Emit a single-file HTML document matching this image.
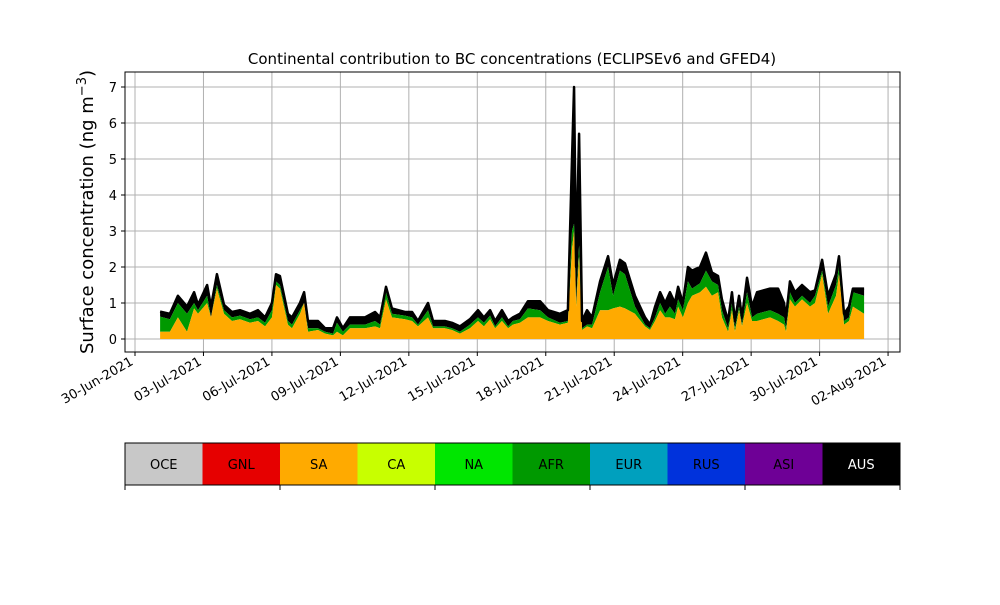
<!DOCTYPE html>
<html><head><meta charset="utf-8"><style>
body{margin:0;background:#fff;font-family:"Liberation Sans","DejaVu Sans",sans-serif}
svg text{font-family:"DejaVu Sans","Liberation Sans",sans-serif}
</style></head><body>
<svg id="c" width="1000" height="600" xmlns="http://www.w3.org/2000/svg"></svg>
<script>
const days=[1.10,1.53,1.88,2.28,2.59,2.76,3.16,3.33,3.59,3.90,4.25,4.60,5.04,5.39,5.70,6.00,6.18,6.35,6.70,6.88,7.23,7.41,7.58,8.02,8.33,8.68,8.85,9.11,9.42,10.08,10.52,10.74,11.00,11.26,11.83,12.14,12.40,12.84,13.06,13.58,13.89,14.24,14.68,15.03,15.29,15.56,15.78,16.08,16.35,16.56,16.87,17.22,17.75,18.10,18.62,18.97,19.15,19.24,19.33,19.46,19.59,19.81,20.03,20.38,20.73,20.95,21.25,21.47,21.91,22.35,22.57,22.79,23.01,23.23,23.44,23.66,23.80,24.01,24.23,24.41,24.76,25.02,25.28,25.55,25.72,25.99,26.16,26.29,26.47,26.60,26.82,27.04,27.26,27.83,28.18,28.44,28.53,28.70,28.92,29.23,29.58,29.80,30.11,30.37,30.72,30.85,31.07,31.29,31.46,31.95];
const sa=[.2,.2,.6,.2,.85,.7,1.0,.6,1.4,.7,.5,.55,.45,.5,.35,.6,1.5,1.4,.4,.3,.7,1.0,.2,.25,.15,.1,.2,.1,.3,.3,.35,.3,1.1,.6,.55,.5,.35,.6,.3,.3,.25,.15,.3,.5,.35,.55,.3,.5,.3,.4,.45,.6,.6,.5,.4,.45,2.5,3.0,.9,2.3,.25,.35,.3,.8,.8,.85,.9,.85,.7,.35,.25,.5,.8,.6,.6,.55,.9,.6,1.0,1.2,1.3,1.45,1.2,1.3,.6,.2,.8,.2,.8,.35,1.0,.5,.5,.6,.5,.4,.2,1.1,.9,1.1,.9,1.0,1.8,.7,1.2,1.8,.4,.5,.9,.7];
const afr=[.42,.35,.4,.5,.15,.1,.2,0,.1,.1,.1,.1,.1,.1,.1,.2,.1,.1,.1,.1,.1,0,.1,.05,.05,.05,.25,.1,.1,.1,.15,.1,.2,.1,.1,.1,.05,.2,.05,.05,.05,.05,.1,.1,.1,.1,.05,.1,.05,.1,.1,.25,.2,.1,.05,.05,.5,.2,.1,.3,.05,.05,.1,.5,1.2,.35,1.0,.95,.2,.05,.05,.1,.2,.1,.3,.15,.2,.2,.6,.2,.25,.45,.4,.2,.2,.1,.2,.1,.1,.05,.3,.1,.2,.2,.2,.2,.1,.2,.1,.1,.1,.2,.1,.2,.3,.2,.1,.1,.4,.5];
const other=[.14,.15,.2,.2,.3,.15,.3,.3,.3,.15,.15,.15,.15,.2,.15,.2,.2,.25,.2,.2,.2,.3,.2,.2,.1,.15,.15,.1,.2,.2,.25,.2,.15,.15,.1,.15,.1,.2,.15,.15,.15,.15,.15,.2,.15,.15,.15,.2,.15,.1,.15,.2,.25,.2,.25,.3,2.0,3.8,1.0,3.1,.2,.4,.2,.3,.3,.3,.3,.3,.3,.2,.1,.3,.3,.3,.4,.3,.35,.2,.4,.5,.45,.5,.25,.25,.3,.2,.3,.2,.3,.2,.4,.3,.6,.6,.7,.4,.3,.3,.3,.3,.3,.15,.3,.3,.3,.3,.2,.3,.1,.2];
const yTicks=[0,1,2,3,4,5,6,7];
const xTickLabels=["30-Jun-2021","03-Jul-2021","06-Jul-2021","09-Jul-2021","12-Jul-2021","15-Jul-2021","18-Jul-2021","21-Jul-2021","24-Jul-2021","27-Jul-2021","30-Jul-2021","02-Aug-2021"];
const regions=["OCE","GNL","SA","CA","NA","AFR","EUR","RUS","ASI","AUS"];
const regionColors=["#c8c8c8","#e60000","#ffaa00","#c8ff00","#00e600","#009900","#00a0be","#0032dc","#6e0096","#000000"];

const NS="http://www.w3.org/2000/svg";const svg=document.getElementById('c');
function el(t,a,p){const e=document.createElementNS(NS,t);for(const k in a)e.setAttribute(k,a[k]);(p||svg).appendChild(e);return e;}
const X0=125,X1=900,Y0=72,Y1=352;
const xs=d=>135+d*22.82, ys=v=>339-v*36;
const grid=el('g',{});


xTickLabels.forEach((l,i)=>{const x=xs(i*3);el('line',{x1:x,x2:x,y1:Y0,y2:Y1,stroke:'#b0b0b0','stroke-width':1},grid);});
yTicks.forEach(v=>{el('line',{x1:X0,x2:X1,y1:ys(v),y2:ys(v),stroke:'#b0b0b0','stroke-width':1},grid);});
const c1=sa, c2=sa.map((v,i)=>v+afr[i]), c3=c2.map((v,i)=>v+other[i]);
function area(top,bot,fill,name){
 let d='M'+days.map((t,i)=>xs(t)+','+ys(top[i])).join('L');
 for(let i=days.length-1;i>=0;i--)d+='L'+xs(days[i])+','+ys(bot?bot[i]:0);
 const p=el('path',{d:d+'Z',fill:fill});
 
 
}
area(c3,c2,'#000000','aus-area');
area(c2,c1,'#009900','afr-area');
area(c1,null,'#ffaa00','sa-area');
const tl=el('path',{d:'M'+days.map((t,i)=>xs(t)+','+ys(c3[i])).join('L'),fill:'none',stroke:'#000','stroke-width':2.5,'stroke-linejoin':'round'});


const fr=el('rect',{x:X0,y:Y0,width:X1-X0,height:Y1-Y0,fill:'none',stroke:'#000','stroke-width':1});


yTicks.forEach(v=>{const y=ys(v);el('line',{x1:X0-4,x2:X0,y1:y,y2:y,stroke:'#000'});
 const t=el('text',{x:X0-8,y:y+5,'text-anchor':'end','font-size':13});t.textContent=v;
 
 });
xTickLabels.forEach((l,i)=>{const x=xs(i*3);el('line',{x1:x,x2:x,y1:Y1,y2:Y1+4,stroke:'#000'});
 const ax=x-1, ay=Y1+12;
 const t=el('text',{x:ax,y:ay,'text-anchor':'end','font-size':13,transform:`rotate(-30 ${ax} ${ay})`});t.textContent=l;
 
 });
const ti=el('text',{x:512,y:64,'text-anchor':'middle','font-size':15});ti.textContent='Continental contribution to BC concentrations (ECLIPSEv6 and GFED4)';


const yl=el('text',{x:93,y:212,'text-anchor':'middle','font-size':18,transform:'rotate(-90 93 212)'});
yl.innerHTML='Surface concentration (ng m<tspan dy="-7" font-size="13">−3</tspan><tspan dy="7">)</tspan>';


const cw=(X1-X0)/regions.length;
regions.forEach((r,i)=>{
 const g=el('g',{});
 
 
 el('rect',{x:X0+i*cw,y:443,width:cw,height:42,fill:regionColors[i]},g);
 const t=el('text',{x:X0+i*cw+cw/2,y:469,'text-anchor':'middle','font-size':13,fill:r==='AUS'?'#fff':'#000'},g);t.textContent=r;
});
el('rect',{x:X0,y:443,width:X1-X0,height:42,fill:'none',stroke:'#000','stroke-width':1});
for(let i=0;i<=5;i++){const x=X0+i*(X1-X0)/5;el('line',{x1:x,x2:x,y1:485,y2:490,stroke:'#000'});}
</script>
</body></html>
